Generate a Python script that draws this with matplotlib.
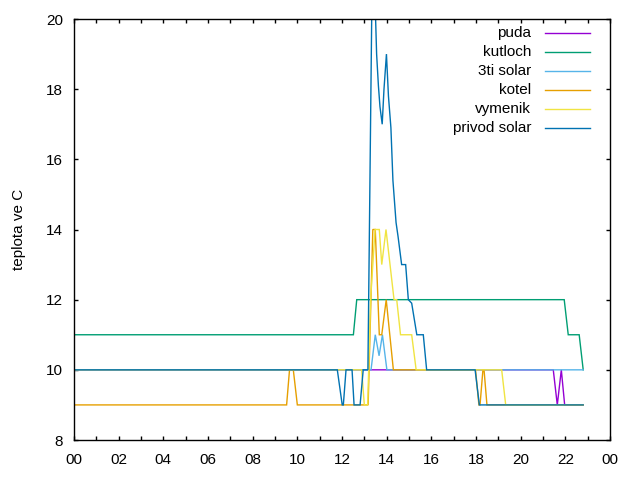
import matplotlib
matplotlib.use("Agg")
import matplotlib.pyplot as plt
import numpy as np

plt.rcParams["font.family"] = ["Liberation Sans", "DejaVu Sans"]

# ----------------------------
# data (time in hours, temperature in C)
# ----------------------------

puda_t = [0, 21.46, 21.64, 21.82, 21.97, 22.80]
puda_v = [10, 10, 9, 10, 9, 9]

kutloch_t = [0, 12.51, 12.66, 21.95, 22.13, 22.62, 22.80]
kutloch_v = [11, 11, 12, 12, 11, 11, 10]

solar3_t = [0, 13.30, 13.49, 13.66, 13.81, 14.01, 22.80]
solar3_v = [10, 10, 11, 10.4, 11, 10, 10]

kotel_t = [0, 9.52, 9.65, 9.82, 10.00, 13.17, 13.38, 13.49, 13.67, 13.78,
           13.98, 14.30, 17.98, 18.13, 18.18, 18.31, 18.36, 18.49, 22.80]
kotel_v = [9, 9, 10, 10, 9, 9, 14, 14, 11, 11,
           12, 10, 10, 9, 9, 10, 10, 9, 9]

vymenik_t = [0, 12.88, 13.00, 13.15, 13.28, 13.48, 13.67, 13.78, 13.97,
             14.33, 14.45, 14.62, 15.12, 15.32, 19.15, 19.33, 22.80]
vymenik_v = [10, 10, 9, 9, 12, 14, 14, 13, 14,
             12, 12, 11, 11, 10, 10, 9, 9]

privod_t = [0, 11.79, 12.01, 12.06, 12.18, 12.45, 12.54, 12.81, 12.95, 13.16,
            13.38, 13.50, 13.55, 13.63, 13.70, 13.80, 13.88, 13.99, 14.08,
            14.19, 14.28, 14.42, 14.51, 14.67, 14.85, 14.97, 15.12, 15.35,
            15.64, 15.79, 17.96, 18.15, 22.80]
privod_v = [10, 10, 9, 9, 10, 10, 9, 9, 10, 10,
            23, 20.1, 19, 18.1, 17.5, 17, 18, 19, 17.8,
            16.9, 15.4, 14.2, 13.8, 13, 13, 12, 11.9, 11,
            11, 10, 10, 9, 9]

series = [
    ("puda", puda_t, puda_v, "#9400d3"),
    ("kutloch", kutloch_t, kutloch_v, "#009e73"),
    ("3ti solar", solar3_t, solar3_v, "#56b4e9"),
    ("kotel", kotel_t, kotel_v, "#e69f00"),
    ("vymenik", vymenik_t, vymenik_v, "#f0e442"),
    ("privod solar", privod_t, privod_v, "#0072b2"),
]

hour_ticks = list(range(0, 25))
hour_labels = ["%02d" % (h % 24) if h % 2 == 0 else "" for h in hour_ticks]
temp_ticks = [8, 10, 12, 14, 16, 18, 20]

# ----------------------------
# plot
# ----------------------------

fig = plt.figure(figsize=(6.4, 4.8), dpi=100)
ax = fig.add_axes([74 / 640, 40 / 480, 536 / 640, 421 / 480])

for name, t, v, color in series:
    ax.plot(t, v, color=color, lw=1.0, solid_joinstyle="miter")

ax.set_xlim(0, 24)
ax.set_ylim(8, 20)
ax.set_xticks(hour_ticks)
ax.set_xticklabels(hour_labels)
ax.set_yticks(temp_ticks)

ax.tick_params(direction="in", length=3, width=1, top=True, right=True,
               labelsize=11, colors="black")
ax.tick_params(axis="x", pad=9)
ax.tick_params(axis="y", pad=8)
for s in ax.spines.values():
    s.set_linewidth(1)

ax.set_ylabel("teplota ve C", fontsize=11)
ax.yaxis.set_label_coords(-0.09, 0.5)

# gnuplot style key: right aligned text, sample line on the right
y0 = 0.966
dy = 0.0449
for i, (name, t, v, color) in enumerate(series):
    yy = y0 - i * dy
    ax.text(0.853, yy, name, transform=ax.transAxes, ha="right", va="center",
            fontsize=11)
    ax.plot([0.879, 0.963], [yy, yy], transform=ax.transAxes, color=color,
            lw=1.0, clip_on=False)

fig.savefig("out.png", dpi=100)
